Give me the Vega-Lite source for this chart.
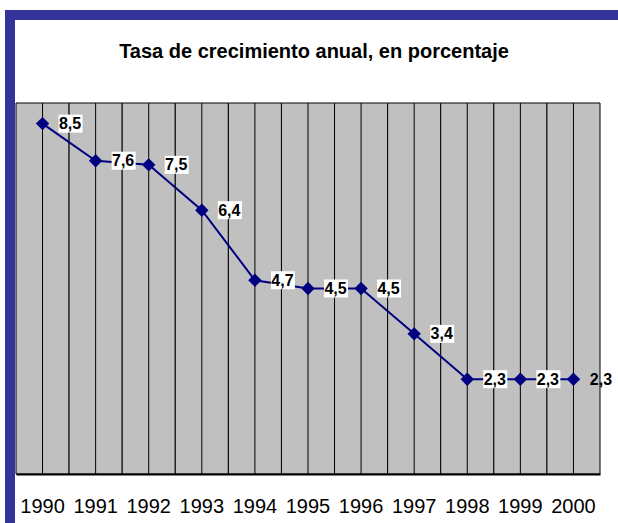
{
  "$schema": "https://vega.github.io/schema/vega-lite/v6.json",
  "width": 608,
  "height": 508,
  "autosize": {"type": "none"},
  "padding": {"left": 10, "top": 15, "right": 0, "bottom": 0},
  "background": "#ffffff",
  "config": {
    "font": "Liberation Sans",
    "view": {"fill": "#ffffff", "stroke": "#333399", "strokeWidth": 10, "strokeDash": [608, 1116, 508], "strokeCap": "square"},
    "locale": {"number": {"decimal": ",", "thousands": ".", "grouping": [3], "currency": ["", " €"]}}
  },
  "title": {
    "text": "Tasa de crecimiento anual, en porcentaje",
    "font": "Liberation Sans",
    "fontSize": 20,
    "fontWeight": "bold",
    "color": "#000000",
    "anchor": "middle",
    "frame": "group",
    "baseline": "alphabetic",
    "offset": -63
  },
  "data": {
    "values": [
      {"year": 1990, "rate": 8.5},
      {"year": 1991, "rate": 7.6},
      {"year": 1992, "rate": 7.5},
      {"year": 1993, "rate": 6.4},
      {"year": 1994, "rate": 4.7},
      {"year": 1995, "rate": 4.5},
      {"year": 1996, "rate": 4.5},
      {"year": 1997, "rate": 3.4},
      {"year": 1998, "rate": 2.3},
      {"year": 1999, "rate": 2.3},
      {"year": 2000, "rate": 2.3}
    ]
  },
  "encoding": {
    "x": {
      "field": "year",
      "type": "ordinal",
      "scale": {"range": [6, 590], "paddingInner": 0, "paddingOuter": 0},
      "axis": {
        "orient": "bottom",
        "offset": -49,
        "domain": true,
        "domainColor": "#000000",
        "domainWidth": 2,
        "ticks": false,
        "grid": false,
        "labelAngle": 0,
        "labelFontSize": 20,
        "labelColor": "#000000",
        "labelFont": "Liberation Sans",
        "labelPadding": 22,
        "title": null,
        "zindex": 1
      }
    }
  },
  "layer": [
    {
      "mark": {"type": "rect", "fill": "#c0c0c0", "stroke": "#000000", "strokeWidth": 1},
      "encoding": {
        "y": {"datum": 0, "type": "quantitative", "scale": {"domain": [0, 9], "range": [459, 88]}, "axis": null},
        "y2": {"datum": 9}
      }
    },
    {
      "mark": {"type": "rule", "color": "#000000", "strokeWidth": 1},
      "encoding": {
        "y": {"datum": 0, "type": "quantitative"},
        "y2": {"datum": 9}
      }
    },
    {
      "mark": {"type": "line", "color": "#000080", "strokeWidth": 2},
      "encoding": {"y": {"field": "rate", "type": "quantitative"}}
    },
    {
      "mark": {"type": "point", "shape": "diamond", "filled": true, "color": "#000080", "size": 180, "opacity": 1},
      "encoding": {"y": {"field": "rate", "type": "quantitative"}}
    },
    {
      "transform": [{"filter": "datum.year < 2000"}],
      "mark": {"type": "point", "shape": "M-1,-0.75L1,-0.75L1,0.75L-1,0.75Z", "filled": true, "color": "#ffffff", "size": 576, "opacity": 1, "xOffset": 28, "yOffset": 0},
      "encoding": {"y": {"field": "rate", "type": "quantitative"}}
    },
    {
      "mark": {"type": "text", "fontWeight": "bold", "fontSize": 16, "dx": 27.5, "dy": 0.5, "align": "center", "baseline": "middle", "color": "#000000", "font": "Liberation Sans"},
      "encoding": {
        "y": {"field": "rate", "type": "quantitative"},
        "text": {"field": "rate", "type": "quantitative", "format": ".1f"}
      }
    }
  ]
}
